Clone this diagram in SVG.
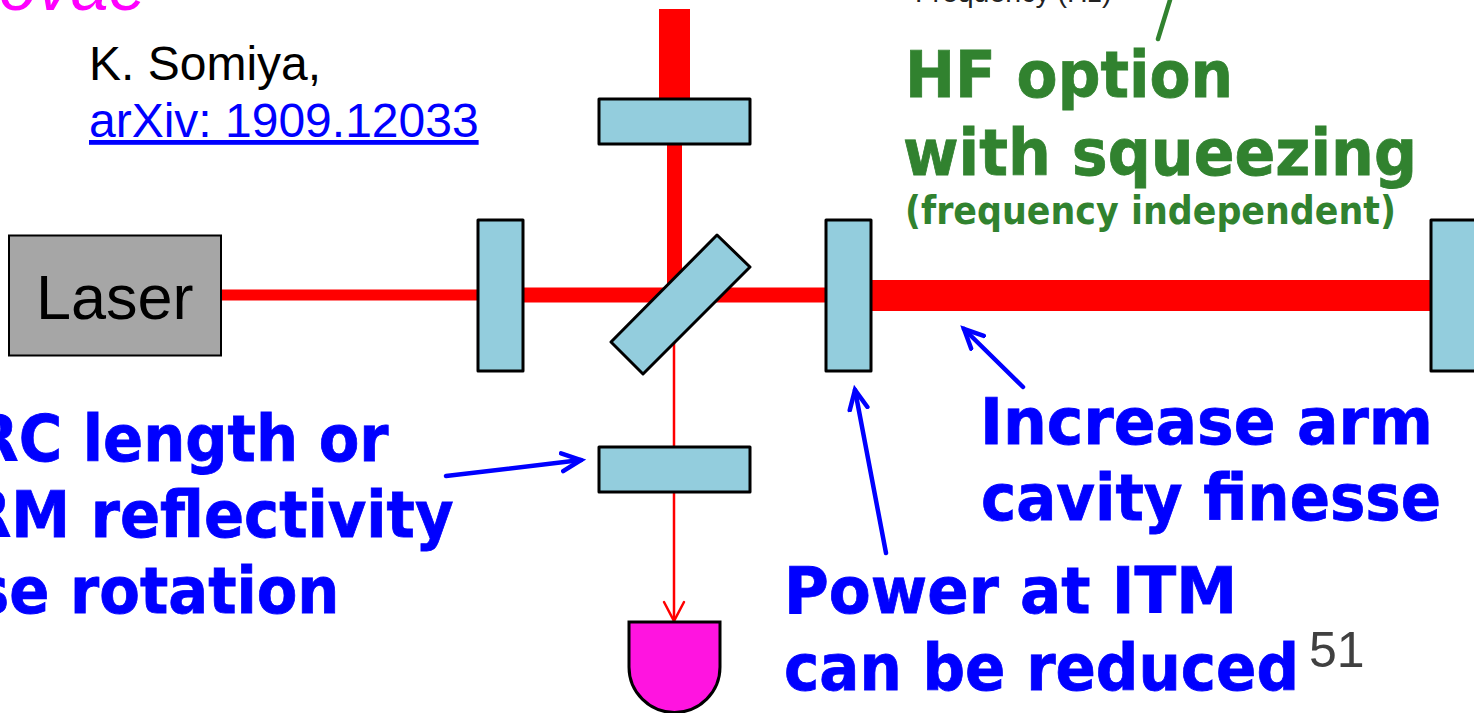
<svg xmlns="http://www.w3.org/2000/svg" width="1474" height="713" viewBox="0 0 1474 713">
<style>
.m{fill:#93cddd;stroke:#000;stroke-width:3;stroke-linejoin:round}
.b{stroke:#f00;fill:none}
.a{stroke:#00f;stroke-width:4.5;stroke-linecap:round;fill:none;marker-end:url(#ah)}
.t{font-family:"DejaVu Sans",Verdana,sans-serif;font-weight:700}
.blue{fill:#00f;stroke:#00f;stroke-width:.8;font-size:64px}
.green{fill:#31822f;stroke:#31822f;stroke-width:.8}
.s{font-family:"Liberation Sans",Arial,sans-serif}
</style>
<defs>
<marker id="ah" markerUnits="userSpaceOnUse" markerWidth="30" markerHeight="30" refX="21" refY="12" orient="auto"><path d="M2 3 L21 12 L2 21" fill="none" stroke="#00f" stroke-width="4.5" stroke-linecap="round"/></marker>
<marker id="rh" markerUnits="userSpaceOnUse" markerWidth="30" markerHeight="30" refX="21" refY="12" orient="auto"><path d="M2 2 L21 12 L2 22" fill="none" stroke="#f00" stroke-width="2.5" stroke-linecap="round"/></marker>
</defs>
<rect width="1474" height="713" fill="#fff"/>
<g id="connectors">
<line class="b" x1="221" y1="295" x2="478" y2="295" stroke-width="11"/>
<line class="b" x1="523" y1="295" x2="826" y2="295" stroke-width="15"/>
<line class="b" x1="871" y1="295.500" x2="1431" y2="295.500" stroke-width="31"/>
<line class="b" x1="674.500" y1="9" x2="674.500" y2="99" stroke-width="31"/>
<line class="b" x1="674.500" y1="144" x2="674.500" y2="295" stroke-width="15"/>
<line class="b" x1="674" y1="340" x2="674" y2="447" stroke-width="2.500"/>
<line class="b" x1="674" y1="492" x2="674" y2="621" stroke-width="2.500" marker-end="url(#rh)"/>
<line x1="1170" y1="0" x2="1158" y2="39" stroke="#31822f" stroke-width="4.500" stroke-linecap="round"/>
<line class="a" x1="446" y1="476" x2="581" y2="460"/>
<line class="a" x1="1023" y1="387" x2="964" y2="329"/>
<line class="a" x1="886" y1="553" x2="855" y2="390"/>
</g>
<g id="laser"><rect x="9" y="235.500" width="212" height="120" fill="#a6a6a6" stroke="#000" stroke-width="2"/><text class="s" x="36" y="319" font-size="63" fill="#000">Laser</text></g>
<g id="mirror-top"><rect class="m" x="599" y="99" width="151" height="45"/></g>
<g id="mirror-prm"><rect class="m" x="478" y="220" width="45" height="151"/></g>
<g id="mirror-itm"><rect class="m" x="826" y="220" width="45" height="151"/></g>
<g id="mirror-etm"><rect class="m" x="1431" y="220" width="60" height="151"/></g>
<g id="mirror-bottom"><rect class="m" x="599" y="447" width="151" height="45"/></g>
<g id="beamsplitter"><polygon class="m" points="717,235 750,267 643,374 611,342"/></g>
<g id="detector"><path d="M629 622 H720 V667 A45.500 45.500 0 0 1 629 667 Z" fill="#ff14e0" stroke="#000" stroke-width="3"/></g>
<g id="labels">
<text class="s" x="-1" y="10" font-size="68" font-style="italic" fill="#f0f">ovae</text>
<text class="s" x="89" y="80" font-size="48" fill="#000">K. Somiya,</text>
<text class="s" x="89" y="137" font-size="48" fill="#00f" text-decoration="underline">arXiv: 1909.12033</text>
<text class="s" x="915" y="2" font-size="28.500" fill="#222">Frequency (Hz)</text>
<text class="t green" x="905" y="97" font-size="64" textLength="328" lengthAdjust="spacingAndGlyphs">HF option</text>
<text class="t green" x="903" y="175" font-size="64" textLength="514" lengthAdjust="spacingAndGlyphs">with squeezing</text>
<text class="t green" x="905" y="224" font-size="39" textLength="491" lengthAdjust="spacingAndGlyphs" style="stroke:none">(frequency independent)</text>
<text class="t blue" transform="translate(388.500 461) scale(.925 1)" text-anchor="end">RC length or</text>
<text class="t blue" transform="translate(453.500 537) scale(.925 1)" text-anchor="end">RM reflectivity</text>
<text class="t blue" transform="translate(339.500 613) scale(.925 1)" text-anchor="end">se rotation</text>
<text class="t blue" x="980" y="444" textLength="453" lengthAdjust="spacingAndGlyphs">Increase arm</text>
<text class="t blue" x="981" y="520" textLength="460" lengthAdjust="spacingAndGlyphs">cavity finesse</text>
<text class="t blue" x="784" y="613" textLength="453" lengthAdjust="spacingAndGlyphs">Power at ITM</text>
<text class="t blue" x="784" y="690" textLength="515" lengthAdjust="spacingAndGlyphs">can be reduced</text>
<text class="s" x="1309" y="667" font-size="50" fill="#404040">51</text>
</g>
</svg>
